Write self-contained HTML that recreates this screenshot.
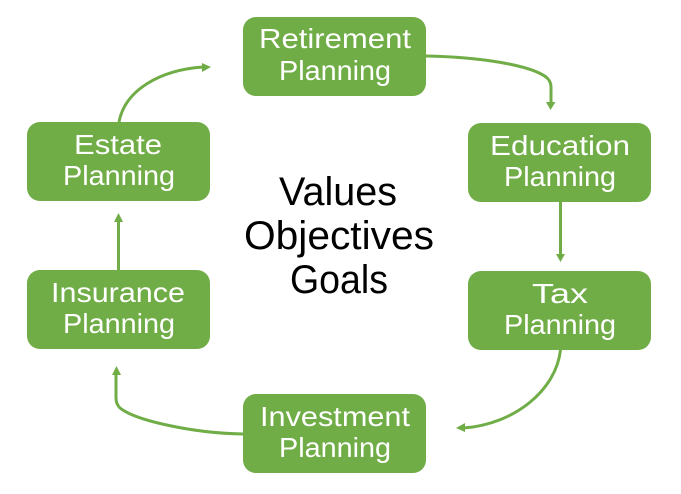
<!DOCTYPE html>
<html><head><meta charset="utf-8"><style>
html,body{margin:0;padding:0;background:#fff}
svg{display:block}
text{font-family:"Liberation Sans",sans-serif;text-anchor:middle}
.w{fill:#fff;font-size:28px}
.k{fill:#000;font-size:40px}
.b{fill:#70ad47}
.c{fill:none;stroke:#70ad47;stroke-width:3}
.h{fill:#70ad47}
</style></head><body>
<svg width="681" height="494" viewBox="0 0 681 494" xmlns="http://www.w3.org/2000/svg">
<rect class="b" x="243" y="17" width="183" height="79" rx="13"/>
<rect class="b" x="468" y="123" width="183" height="79" rx="13"/>
<rect class="b" x="468" y="271" width="183" height="79" rx="13"/>
<rect class="b" x="243" y="394" width="183" height="79" rx="13"/>
<rect class="b" x="27" y="270" width="183" height="79" rx="13"/>
<rect class="b" x="27" y="122" width="183" height="79" rx="13"/>

<path class="c" d="M426 56C480 57 530 65 546 77Q551 81 551 87V103"/>
<polygon class="h" points="546,102 555.500,102 550.500,110"/>
<path class="c" d="M560.500 202V255"/>
<polygon class="h" points="556,254 565,254 560.500,262"/>
<path class="c" d="M560.500 350C556 390 515 424 464 428"/>
<polygon class="h" points="465,423 465,432 456,428"/>
<path class="c" d="M243 434C190 433 135 420 120 408Q116 404 116 398V374"/>
<polygon class="h" points="112,375 121,375 116.500,366"/>
<path class="c" d="M118.500 270V220"/>
<polygon class="h" points="114,222 123,222 118.500,213"/>
<path class="c" d="M119 122C125 90 160 70 203 67"/>
<polygon class="h" points="202,63 202,72 211,67"/>

<text class="w" x="335" y="48" textLength="152" lengthAdjust="spacingAndGlyphs">Retirement</text>
<text class="w" x="335" y="80" textLength="112" lengthAdjust="spacingAndGlyphs">Planning</text>
<text class="w" x="560" y="155" textLength="140" lengthAdjust="spacingAndGlyphs">Education</text>
<text class="w" x="560" y="186" textLength="112" lengthAdjust="spacingAndGlyphs">Planning</text>
<text class="w" x="560" y="303" textLength="56" lengthAdjust="spacingAndGlyphs">Tax</text>
<text class="w" x="560" y="334" textLength="112" lengthAdjust="spacingAndGlyphs">Planning</text>
<text class="w" x="335" y="426" textLength="150" lengthAdjust="spacingAndGlyphs">Investment</text>
<text class="w" x="335" y="457" textLength="112" lengthAdjust="spacingAndGlyphs">Planning</text>
<text class="w" x="118" y="302" textLength="134" lengthAdjust="spacingAndGlyphs">Insurance</text>
<text class="w" x="119" y="333" textLength="112" lengthAdjust="spacingAndGlyphs">Planning</text>
<text class="w" x="118" y="154" textLength="88" lengthAdjust="spacingAndGlyphs">Estate</text>
<text class="w" x="119" y="185" textLength="112" lengthAdjust="spacingAndGlyphs">Planning</text>

<text class="k" x="338" y="205" textLength="118" lengthAdjust="spacingAndGlyphs">Values</text>
<text class="k" x="339" y="249" textLength="190" lengthAdjust="spacingAndGlyphs">Objectives</text>
<text class="k" x="339" y="293" textLength="98" lengthAdjust="spacingAndGlyphs">Goals</text>
</svg>
</body></html>
